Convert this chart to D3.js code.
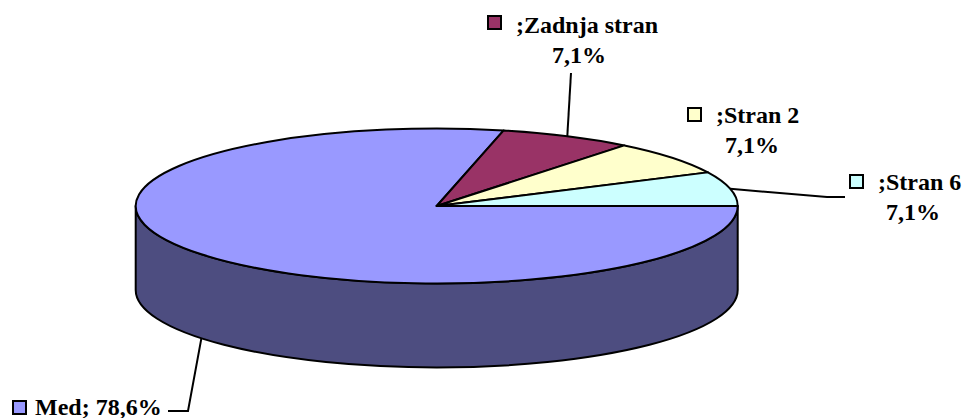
<!DOCTYPE html>
<html>
<head>
<meta charset="utf-8">
<script src="https://cdn.jsdelivr.net/npm/d3@7/dist/d3.min.js"></script>
<style>
  html, body { margin: 0; padding: 0; background: #fff; }
  svg { display: block; }
</style>
</head>
<body>
<svg id="chart" width="964" height="418"></svg>
<script>
// ---- data ----
const categories = ["Med", "Zadnja stran", "Stran 2", "Stran 6"];
const values = [11, 1, 1, 1];
const topColors = ["#9999FF", "#993366", "#FFFFCC", "#CCFFFF"];
const sideColors = ["#4D4D80", "#4D1A33", "#808066", "#668080"];

// ---- layout ----
const FONT = "'Liberation Serif', 'Times New Roman', Times, 'DejaVu Serif', serif";
const cx = 436.7, cy = 206, rx = 301, ry = 77.5, depth = 84;
const svg = d3.select("#chart");

const total = d3.sum(values);
const fmtPct = v => d3.format(".1f")(v / total * 100).replace(".", ",") + "%";

const pie = d3.pie().sort(null).value(d => d)
  .startAngle(Math.PI / 2).endAngle(Math.PI / 2 + 2 * Math.PI);
const arcs = pie(values);

const pt = (a, dy = 0) => [cx + rx * Math.sin(a), cy - ry * Math.cos(a) + dy];

// ---- sides (front half) ----
const sideG = svg.append("g");
arcs.forEach((d, i) => {
  [[Math.PI / 2, 3 * Math.PI / 2], [5 * Math.PI / 2, 7 * Math.PI / 2]].forEach(([lo, hi]) => {
    const a0 = Math.max(d.startAngle, lo), a1 = Math.min(d.endAngle, hi);
    if (a1 - a0 > 1e-6) {
      const p0 = pt(a0), p1 = pt(a1), q1 = pt(a1, depth), q0 = pt(a0, depth);
      const large = (a1 - a0) > Math.PI ? 1 : 0;
      const path = `M${p0}A${rx},${ry} 0 ${large} 1 ${p1}L${q1}A${rx},${ry} 0 ${large} 0 ${q0}Z`;
      sideG.append("path").attr("d", path)
        .attr("fill", sideColors[i]).attr("stroke", "#000")
        .attr("stroke-width", 2).attr("stroke-linejoin", "round");
    }
  });
});

// ---- tops ----
const topG = svg.append("g");
arcs.forEach((d, i) => {
  const p0 = pt(d.startAngle), p1 = pt(d.endAngle);
  const large = (d.endAngle - d.startAngle) > Math.PI ? 1 : 0;
  const path = `M${cx},${cy}L${p0}A${rx},${ry} 0 ${large} 1 ${p1}Z`;
  topG.append("path").attr("d", path)
    .attr("fill", topColors[i]).attr("stroke", "#000")
    .attr("stroke-width", 2).attr("stroke-linejoin", "round");
});

// ---- labels ----
const labelLayout = [
  { sq: [13, 401], name: [35, 415], pct: null, inline: true, leader: [[188, 411], [168, 411]], bottom: true },
  { sq: [488, 16], name: [516, 33], pct: [579, 63], leader: [[571, 73]] },
  { sq: [688, 108], name: [716, 123], pct: [752, 153], leader: null },
  { sq: [850, 175], name: [878, 190], pct: [913, 220], leader: [[827, 197], [845, 197]] }
];

const labG = svg.append("g");
const addText = (x, y, s, anchor) => labG.append("text")
  .attr("x", x).attr("y", y)
  .attr("font-family", FONT).attr("font-weight", "bold").attr("font-size", 24)
  .attr("fill", "#000").attr("text-anchor", anchor || "start").text(s);

arcs.forEach((d, i) => {
  const L = labelLayout[i];
  const mid = (d.startAngle + d.endAngle) / 2;
  if (L.leader) {
    const start = pt(mid, L.bottom ? depth : 0);
    const pts = [start].concat(L.leader);
    labG.append("path").attr("d", d3.line()(pts))
      .attr("fill", "none").attr("stroke", "#000").attr("stroke-width", 2);
  }
  labG.append("rect").attr("x", L.sq[0]).attr("y", L.sq[1])
    .attr("width", 13).attr("height", 13)
    .attr("fill", topColors[i]).attr("stroke", "#000").attr("stroke-width", 2);
  if (L.inline) {
    addText(L.name[0], L.name[1], categories[i] + "; " + fmtPct(d.value));
  } else {
    addText(L.name[0], L.name[1], ";" + categories[i]);
    addText(L.pct[0], L.pct[1], fmtPct(d.value), "middle");
  }
});
</script>
</body>
</html>
